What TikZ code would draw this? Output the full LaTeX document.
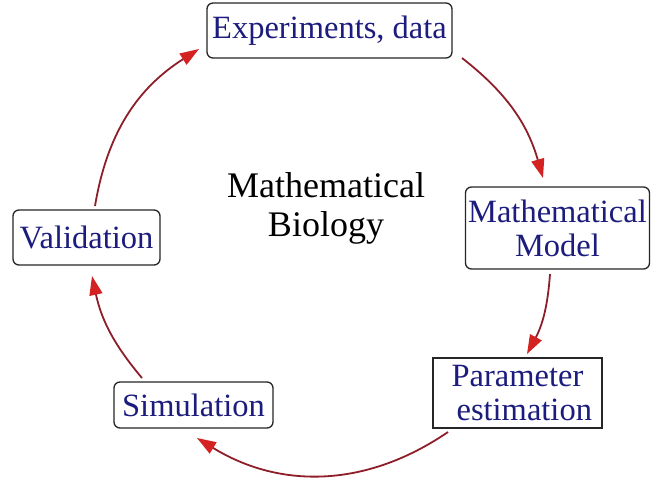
\documentclass[tikz,border=0pt]{standalone}
\usepackage{fontspec}
\setmainfont{Liberation Serif}
\usetikzlibrary{arrows.meta}
\definecolor{boxtext}{HTML}{1C1C7E}
\definecolor{arrowline}{HTML}{8E1F2A}
\definecolor{arrowtip}{HTML}{D42222}
\tikzset{
  stage/.style={draw=black!85, line width=1.3pt, rounded corners=6pt, fill=white,
    text=boxtext, font=\fontsize{32.5}{34}\selectfont, align=center, inner sep=0pt},
  cyc/.style={draw=arrowline, line width=1.8pt,
    -{Triangle[length=19pt,width=13pt,color=arrowtip]}},
}
\begin{document}
\begin{tikzpicture}[x=1pt,y=-1pt]
\useasboundingbox (0,0) rectangle (651,481);
\fill[white] (0,0) rectangle (651,481);
% nodes
\node[stage, minimum width=245pt, minimum height=55pt] (exp) at (329.5,30.5) {Experiments, data};
\node[stage, minimum width=184pt, minimum height=82pt] (model) at (557.5,228) {Mathematical\\Model};
\node[stage, rounded corners=0pt, minimum width=169pt, minimum height=70pt] (param) at (517.5,393) {Parameter\\ \ \,estimation};
\node[stage, minimum width=147pt, minimum height=55pt] (valid) at (86.5,237.5) {Validation};
\node[stage, minimum width=159pt, minimum height=46pt] (sim) at (193.5,405) {Simulation};
\node[font=\fontsize{36}{39}\selectfont, align=center] (title) at (326,208) {Mathematical\\Biology};
% arrow end points
\coordinate (a1s) at (462,58);  \coordinate (a1e) at (543,178);
\coordinate (a2s) at (550,274); \coordinate (a2e) at (527,354);
\coordinate (a3s) at (448,432); \coordinate (a3e) at (197,438);
\coordinate (a4s) at (142,378); \coordinate (a4e) at (92,276);
\coordinate (a5s) at (95,206);  \coordinate (a5e) at (199,49);
\draw[cyc] (a1s) to[bend left=18] (a1e);
\draw[cyc] (a2s) to[bend left=12] (a2e);
\draw[cyc] (a3s) to[bend left=33] (a3e);
\draw[cyc] (a4s) to[bend left=14] (a4e);
\draw[cyc] (a5s) to[bend left=24] (a5e);
\end{tikzpicture}
\end{document}
